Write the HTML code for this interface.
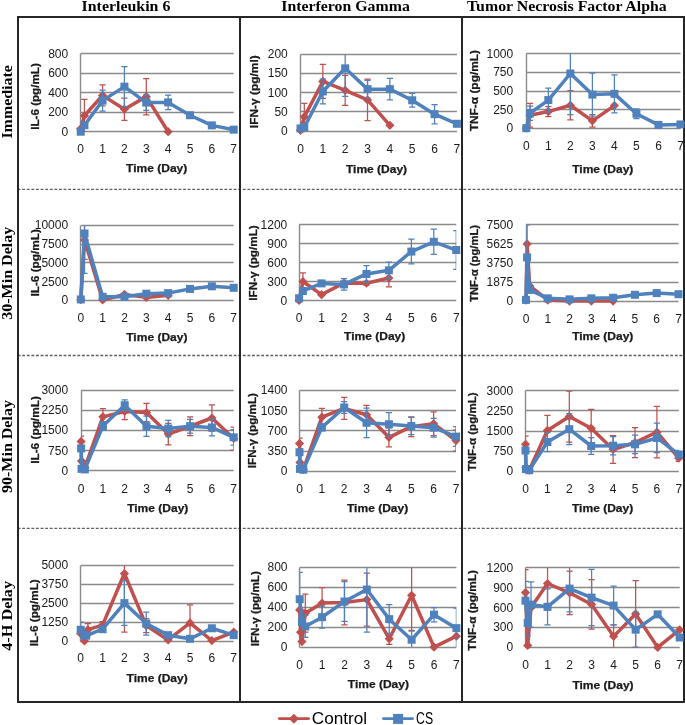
<!DOCTYPE html>
<html><head><meta charset="utf-8"><title>Cytokine charts</title>
<style>
html,body{margin:0;padding:0;background:#fff;}
body{width:685px;height:725px;overflow:hidden;}
svg{display:block;will-change:transform;}
.g{stroke:#8a8a8a;stroke-width:1.4;fill:none;}
.t{font-family:"Liberation Sans",sans-serif;font-size:12px;fill:#1a1a1a;}
.b{font-family:"Liberation Sans",sans-serif;font-size:10.8px;font-weight:bold;fill:#1a1a1a;stroke:#1a1a1a;stroke-width:0.25px;}
.h{font-family:"Liberation Serif",serif;font-size:15.5px;font-weight:bold;fill:#000;}
.lg{font-family:"Liberation Sans",sans-serif;font-size:16px;fill:#000;}
</style></head><body>
<svg width="685" height="725" viewBox="0 0 685 725">
<rect width="685" height="725" fill="#fff"/>

<text x="81.6" y="10.8" class="h" textLength="88.8" lengthAdjust="spacingAndGlyphs">Interleukin 6</text>
<text x="281.3" y="10.8" class="h" textLength="128.5" lengthAdjust="spacingAndGlyphs">Interferon Gamma</text>
<text x="467.0" y="10.8" class="h" textLength="199.7" lengthAdjust="spacingAndGlyphs">Tumor Necrosis Factor Alpha</text>
<text transform="translate(11.5,101.85) rotate(-90)" class="h" text-anchor="middle" textLength="73.5" lengthAdjust="spacingAndGlyphs">Immediate</text>
<text transform="translate(11.5,273.25) rotate(-90)" class="h" text-anchor="middle" textLength="93" lengthAdjust="spacingAndGlyphs">30-Min Delay</text>
<text transform="translate(11.5,446.55) rotate(-90)" class="h" text-anchor="middle" textLength="93" lengthAdjust="spacingAndGlyphs">90-Min Delay</text>
<text transform="translate(11.5,615.85) rotate(-90)" class="h" text-anchor="middle" textLength="69.8" lengthAdjust="spacingAndGlyphs">4-H Delay</text>
<g stroke="#5e5e5e" stroke-width="1.4" stroke-dasharray="2.87 1.726" fill="none">
<line x1="17.6" y1="189.4" x2="683" y2="189.4"/>
<line x1="17.6" y1="355.5" x2="683" y2="355.5"/>
<line x1="17.6" y1="528.4" x2="683" y2="528.4"/>
</g>
<g stroke="#262626" stroke-width="2" fill="none">
<rect x="18" y="17" width="666" height="685"/>
<line x1="240" y1="17" x2="240" y2="702"/>
<line x1="462" y1="17" x2="462" y2="702"/>
</g>
<clipPath id="c0"><rect x="80.7" y="53.8" width="153" height="77.9"/></clipPath>
<line x1="80.7" y1="131.5" x2="233.7" y2="131.5" class="g"/>
<text x="68.2" y="135.7" class="t" text-anchor="end">0</text>
<line x1="80.7" y1="112.5" x2="233.7" y2="112.5" class="g"/>
<text x="68.2" y="116.22" class="t" text-anchor="end">200</text>
<line x1="80.7" y1="92.5" x2="233.7" y2="92.5" class="g"/>
<text x="68.2" y="96.75" class="t" text-anchor="end">400</text>
<line x1="80.7" y1="73.5" x2="233.7" y2="73.5" class="g"/>
<text x="68.2" y="77.27" class="t" text-anchor="end">600</text>
<line x1="80.7" y1="53.5" x2="233.7" y2="53.5" class="g"/>
<text x="68.2" y="57.8" class="t" text-anchor="end">800</text>
<line x1="80.5" y1="53.5" x2="80.5" y2="131.5" class="g"/>
<text x="80.7" y="152.9" class="t" text-anchor="middle">0</text>
<text x="102.56" y="152.9" class="t" text-anchor="middle">1</text>
<text x="124.41" y="152.9" class="t" text-anchor="middle">2</text>
<text x="146.27" y="152.9" class="t" text-anchor="middle">3</text>
<text x="168.13" y="152.9" class="t" text-anchor="middle">4</text>
<text x="189.99" y="152.9" class="t" text-anchor="middle">5</text>
<text x="211.84" y="152.9" class="t" text-anchor="middle">6</text>
<text x="233.7" y="152.9" class="t" text-anchor="middle">7</text>
<text x="156.7" y="171.9" class="b" text-anchor="middle" textLength="61.2" lengthAdjust="spacingAndGlyphs">Time (Day)</text>
<text transform="translate(38.8,96.5) rotate(-90)" class="b" text-anchor="middle" textLength="66.6" lengthAdjust="spacingAndGlyphs">IL-6 (pg/mL)</text>
<g clip-path="url(#c0)">
<path d="M84.42 99.37V132.09M81.32 99.37H87.52M81.32 132.09H87.52" stroke="#C0504D" stroke-width="1.25" fill="none"/>
<path d="M102.56 84.86V105.9M99.46 84.86H105.66M99.46 105.9H105.66" stroke="#C0504D" stroke-width="1.25" fill="none"/>
<path d="M124.41 98.11V120.31M121.31 98.11H127.51M121.31 120.31H127.51" stroke="#C0504D" stroke-width="1.25" fill="none"/>
<path d="M146.27 78.53V114.76M143.17 78.53H149.37M143.17 114.76H149.37" stroke="#C0504D" stroke-width="1.25" fill="none"/>
</g>
<path d="M80.7 128.78 L84.42 115.73 L102.56 95.38 L124.41 109.21 L146.27 96.64 L168.13 131.7" stroke="#C0504D" stroke-width="3.5" fill="none" stroke-linejoin="round"/>
<path d="M80.7 124.18L85.3 128.78L80.7 133.38L76.1 128.78Z" fill="#C0504D"/>
<path d="M84.42 111.13L89.02 115.73L84.42 120.33L79.82 115.73Z" fill="#C0504D"/>
<path d="M102.56 90.78L107.16 95.38L102.56 99.98L97.96 95.38Z" fill="#C0504D"/>
<path d="M124.41 104.61L129.01 109.21L124.41 113.81L119.81 109.21Z" fill="#C0504D"/>
<path d="M146.27 92.05L150.87 96.64L146.27 101.24L141.67 96.64Z" fill="#C0504D"/>
<path d="M168.13 127.1L172.73 131.7L168.13 136.3L163.53 131.7Z" fill="#C0504D"/>
<g clip-path="url(#c0)">
<path d="M102.56 90.22V111.06M99.46 90.22H105.66M99.46 111.06H105.66" stroke="#4F81BD" stroke-width="1.25" fill="none"/>
<path d="M124.41 66.56V106.67M121.31 66.56H127.51M121.31 106.67H127.51" stroke="#4F81BD" stroke-width="1.25" fill="none"/>
<path d="M146.27 94.79V110.37M143.17 94.79H149.37M143.17 110.37H149.37" stroke="#4F81BD" stroke-width="1.25" fill="none"/>
<path d="M168.13 95.09V109.69M165.03 95.09H171.23M165.03 109.69H171.23" stroke="#4F81BD" stroke-width="1.25" fill="none"/>
</g>
<path d="M80.7 131.7 L84.42 125.18 L102.56 100.64 L124.41 86.62 L146.27 102.58 L168.13 102.39 L189.99 115.24 L211.84 125.37 L233.7 129.66" stroke="#4F81BD" stroke-width="3.5" fill="none" stroke-linejoin="round"/>
<rect x="76.7" y="127.7" width="8" height="8" fill="#4F81BD"/>
<rect x="80.42" y="121.18" width="8" height="8" fill="#4F81BD"/>
<rect x="98.56" y="96.64" width="8" height="8" fill="#4F81BD"/>
<rect x="120.41" y="82.62" width="8" height="8" fill="#4F81BD"/>
<rect x="142.27" y="98.58" width="8" height="8" fill="#4F81BD"/>
<rect x="164.13" y="98.39" width="8" height="8" fill="#4F81BD"/>
<rect x="185.99" y="111.24" width="8" height="8" fill="#4F81BD"/>
<rect x="207.84" y="121.37" width="8" height="8" fill="#4F81BD"/>
<rect x="229.7" y="125.66" width="8" height="8" fill="#4F81BD"/>
<clipPath id="c1"><rect x="300.5" y="54.1" width="156.4" height="77"/></clipPath>
<line x1="300.5" y1="131.5" x2="456.9" y2="131.5" class="g"/>
<text x="287.8" y="135.1" class="t" text-anchor="end">0</text>
<line x1="300.5" y1="111.5" x2="456.9" y2="111.5" class="g"/>
<text x="287.8" y="115.85" class="t" text-anchor="end">50</text>
<line x1="300.5" y1="92.5" x2="456.9" y2="92.5" class="g"/>
<text x="287.8" y="96.6" class="t" text-anchor="end">100</text>
<line x1="300.5" y1="73.5" x2="456.9" y2="73.5" class="g"/>
<text x="287.8" y="77.35" class="t" text-anchor="end">150</text>
<line x1="300.5" y1="54.5" x2="456.9" y2="54.5" class="g"/>
<text x="287.8" y="58.1" class="t" text-anchor="end">200</text>
<line x1="300.5" y1="54.5" x2="300.5" y2="131.5" class="g"/>
<text x="300.5" y="152.9" class="t" text-anchor="middle">0</text>
<text x="322.84" y="152.9" class="t" text-anchor="middle">1</text>
<text x="345.19" y="152.9" class="t" text-anchor="middle">2</text>
<text x="367.53" y="152.9" class="t" text-anchor="middle">3</text>
<text x="389.87" y="152.9" class="t" text-anchor="middle">4</text>
<text x="412.21" y="152.9" class="t" text-anchor="middle">5</text>
<text x="434.56" y="152.9" class="t" text-anchor="middle">6</text>
<text x="456.9" y="152.9" class="t" text-anchor="middle">7</text>
<text x="376.55" y="173" class="b" text-anchor="middle" textLength="61.2" lengthAdjust="spacingAndGlyphs">Time (Day)</text>
<text transform="translate(257.6,91.75) rotate(-90)" class="b" text-anchor="middle" textLength="72.9" lengthAdjust="spacingAndGlyphs">IFN-γ (pg/ml)</text>
<g clip-path="url(#c1)">
<path d="M304.3 103.38V130.33M301.2 103.38H307.4M301.2 130.33H307.4" stroke="#C0504D" stroke-width="1.25" fill="none"/>
<path d="M322.84 64.49V98.38M319.74 64.49H325.94M319.74 98.38H325.94" stroke="#C0504D" stroke-width="1.25" fill="none"/>
<path d="M345.19 75.27V105.3M342.09 75.27H348.29M342.09 105.3H348.29" stroke="#C0504D" stroke-width="1.25" fill="none"/>
<path d="M367.53 79.12V120.7M364.43 79.12H370.63M364.43 120.7H370.63" stroke="#C0504D" stroke-width="1.25" fill="none"/>
</g>
<path d="M300.5 130.33 L304.3 116.85 L322.84 81.44 L345.19 90.29 L367.53 99.91 L389.87 125.32" stroke="#C0504D" stroke-width="3.5" fill="none" stroke-linejoin="round"/>
<path d="M300.5 125.73L305.1 130.33L300.5 134.93L295.9 130.33Z" fill="#C0504D"/>
<path d="M304.3 112.25L308.9 116.85L304.3 121.45L299.7 116.85Z" fill="#C0504D"/>
<path d="M322.84 76.84L327.44 81.44L322.84 86.03L318.24 81.44Z" fill="#C0504D"/>
<path d="M345.19 85.69L349.79 90.29L345.19 94.89L340.59 90.29Z" fill="#C0504D"/>
<path d="M367.53 95.31L372.13 99.91L367.53 104.51L362.93 99.91Z" fill="#C0504D"/>
<path d="M389.87 120.72L394.47 125.32L389.87 129.92L385.27 125.32Z" fill="#C0504D"/>
<g clip-path="url(#c1)">
<path d="M322.84 79.12V103.76M319.74 79.12H325.94M319.74 103.76H325.94" stroke="#4F81BD" stroke-width="1.25" fill="none"/>
<path d="M345.19 40.24V96.45M342.09 40.24H348.29M342.09 96.45H348.29" stroke="#4F81BD" stroke-width="1.25" fill="none"/>
<path d="M367.53 80.28V97.99M364.43 80.28H370.63M364.43 97.99H370.63" stroke="#4F81BD" stroke-width="1.25" fill="none"/>
<path d="M389.87 78.35V99.91M386.77 78.35H392.97M386.77 99.91H392.97" stroke="#4F81BD" stroke-width="1.25" fill="none"/>
<path d="M412.21 93.37V107.23M409.11 93.37H415.31M409.11 107.23H415.31" stroke="#4F81BD" stroke-width="1.25" fill="none"/>
<path d="M434.56 104.53V123.78M431.46 104.53H437.66M431.46 123.78H437.66" stroke="#4F81BD" stroke-width="1.25" fill="none"/>
</g>
<path d="M300.5 128.41 L304.3 127.25 L322.84 91.44 L345.19 68.34 L367.53 89.13 L389.87 89.13 L412.21 100.3 L434.56 114.16 L456.9 123.78" stroke="#4F81BD" stroke-width="3.5" fill="none" stroke-linejoin="round"/>
<rect x="296.5" y="124.41" width="8" height="8" fill="#4F81BD"/>
<rect x="300.3" y="123.25" width="8" height="8" fill="#4F81BD"/>
<rect x="318.84" y="87.44" width="8" height="8" fill="#4F81BD"/>
<rect x="341.19" y="64.34" width="8" height="8" fill="#4F81BD"/>
<rect x="363.53" y="85.13" width="8" height="8" fill="#4F81BD"/>
<rect x="385.87" y="85.13" width="8" height="8" fill="#4F81BD"/>
<rect x="408.21" y="96.3" width="8" height="8" fill="#4F81BD"/>
<rect x="430.56" y="110.16" width="8" height="8" fill="#4F81BD"/>
<rect x="452.9" y="119.78" width="8" height="8" fill="#4F81BD"/>
<clipPath id="c2"><rect x="526.3" y="53.6" width="154.2" height="74.8"/></clipPath>
<line x1="526.3" y1="128.5" x2="680.5" y2="128.5" class="g"/>
<text x="513.2" y="132.4" class="t" text-anchor="end">0</text>
<line x1="526.3" y1="109.5" x2="680.5" y2="109.5" class="g"/>
<text x="513.2" y="113.7" class="t" text-anchor="end">250</text>
<line x1="526.3" y1="91.5" x2="680.5" y2="91.5" class="g"/>
<text x="513.2" y="95" class="t" text-anchor="end">500</text>
<line x1="526.3" y1="72.5" x2="680.5" y2="72.5" class="g"/>
<text x="513.2" y="76.3" class="t" text-anchor="end">750</text>
<line x1="526.3" y1="53.5" x2="680.5" y2="53.5" class="g"/>
<text x="513.2" y="57.6" class="t" text-anchor="end">1000</text>
<line x1="526.5" y1="53.5" x2="526.5" y2="128.5" class="g"/>
<text x="526.3" y="150.3" class="t" text-anchor="middle">0</text>
<text x="548.33" y="150.3" class="t" text-anchor="middle">1</text>
<text x="570.36" y="150.3" class="t" text-anchor="middle">2</text>
<text x="592.39" y="150.3" class="t" text-anchor="middle">3</text>
<text x="614.41" y="150.3" class="t" text-anchor="middle">4</text>
<text x="636.44" y="150.3" class="t" text-anchor="middle">5</text>
<text x="658.47" y="150.3" class="t" text-anchor="middle">6</text>
<text x="680.5" y="150.3" class="t" text-anchor="middle">7</text>
<text x="602.8" y="172.7" class="b" text-anchor="middle" textLength="61.2" lengthAdjust="spacingAndGlyphs">Time (Day)</text>
<text transform="translate(477.9,90.65) rotate(-90)" class="b" text-anchor="middle" textLength="81.3" lengthAdjust="spacingAndGlyphs">TNF-α (pg/mL)</text>
<g clip-path="url(#c2)">
<path d="M530.04 103.27V127.2M526.94 103.27H533.14M526.94 127.2H533.14" stroke="#C0504D" stroke-width="1.25" fill="none"/>
<path d="M548.33 106.56V116.58M545.23 106.56H551.43M545.23 116.58H551.43" stroke="#C0504D" stroke-width="1.25" fill="none"/>
<path d="M570.36 90.7V119.87M567.26 90.7H573.46M567.26 119.87H573.46" stroke="#C0504D" stroke-width="1.25" fill="none"/>
<path d="M592.39 114.64V127.05M589.29 114.64H595.49M589.29 127.05H595.49" stroke="#C0504D" stroke-width="1.25" fill="none"/>
</g>
<path d="M526.3 128.03 L530.04 115.24 L548.33 111.57 L570.36 105.29 L592.39 120.85 L614.41 105.59" stroke="#C0504D" stroke-width="3.5" fill="none" stroke-linejoin="round"/>
<path d="M526.3 123.43L530.9 128.03L526.3 132.63L521.7 128.03Z" fill="#C0504D"/>
<path d="M530.04 110.64L534.64 115.24L530.04 119.84L525.44 115.24Z" fill="#C0504D"/>
<path d="M548.33 106.97L552.93 111.57L548.33 116.17L543.73 111.57Z" fill="#C0504D"/>
<path d="M570.36 100.69L574.96 105.29L570.36 109.89L565.76 105.29Z" fill="#C0504D"/>
<path d="M592.39 116.25L596.99 120.85L592.39 125.45L587.79 120.85Z" fill="#C0504D"/>
<path d="M614.41 100.99L619.01 105.59L614.41 110.19L609.81 105.59Z" fill="#C0504D"/>
<g clip-path="url(#c2)">
<path d="M530.04 106.18V120.4M526.94 106.18H533.14M526.94 120.4H533.14" stroke="#4F81BD" stroke-width="1.25" fill="none"/>
<path d="M548.33 88.08V112.02M545.23 88.08H551.43M545.23 112.02H551.43" stroke="#4F81BD" stroke-width="1.25" fill="none"/>
<path d="M570.36 32.43V114.56M567.26 32.43H573.46M567.26 114.56H573.46" stroke="#4F81BD" stroke-width="1.25" fill="none"/>
<path d="M592.39 73.05V116.13M589.29 73.05H595.49M589.29 116.13H595.49" stroke="#4F81BD" stroke-width="1.25" fill="none"/>
<path d="M614.41 74.84V112.84M611.31 74.84H617.51M611.31 112.84H617.51" stroke="#4F81BD" stroke-width="1.25" fill="none"/>
<path d="M636.44 108.88V118.6M633.34 108.88H639.54M633.34 118.6H639.54" stroke="#4F81BD" stroke-width="1.25" fill="none"/>
</g>
<path d="M526.3 128.18 L530.04 113.29 L548.33 100.05 L570.36 73.5 L592.39 94.59 L614.41 93.84 L636.44 113.74 L658.47 124.88 L680.5 124.44" stroke="#4F81BD" stroke-width="3.5" fill="none" stroke-linejoin="round"/>
<rect x="522.3" y="124.18" width="8" height="8" fill="#4F81BD"/>
<rect x="526.04" y="109.29" width="8" height="8" fill="#4F81BD"/>
<rect x="544.33" y="96.05" width="8" height="8" fill="#4F81BD"/>
<rect x="566.36" y="69.5" width="8" height="8" fill="#4F81BD"/>
<rect x="588.39" y="90.59" width="8" height="8" fill="#4F81BD"/>
<rect x="610.41" y="89.84" width="8" height="8" fill="#4F81BD"/>
<rect x="632.44" y="109.74" width="8" height="8" fill="#4F81BD"/>
<rect x="654.47" y="120.88" width="8" height="8" fill="#4F81BD"/>
<rect x="676.5" y="120.44" width="8" height="8" fill="#4F81BD"/>
<clipPath id="c3"><rect x="80.8" y="225.25" width="152.9" height="75.15"/></clipPath>
<line x1="80.8" y1="300.5" x2="233.7" y2="300.5" class="g"/>
<text x="68.1" y="304.4" class="t" text-anchor="end">0</text>
<line x1="80.8" y1="281.5" x2="233.7" y2="281.5" class="g"/>
<text x="68.1" y="285.61" class="t" text-anchor="end">2500</text>
<line x1="80.8" y1="262.5" x2="233.7" y2="262.5" class="g"/>
<text x="68.1" y="266.82" class="t" text-anchor="end">5000</text>
<line x1="80.8" y1="244.5" x2="233.7" y2="244.5" class="g"/>
<text x="68.1" y="248.04" class="t" text-anchor="end">7500</text>
<line x1="80.8" y1="225.5" x2="233.7" y2="225.5" class="g"/>
<text x="68.1" y="229.25" class="t" text-anchor="end">10000</text>
<line x1="80.5" y1="225.5" x2="80.5" y2="300.5" class="g"/>
<text x="80.8" y="322.1" class="t" text-anchor="middle">0</text>
<text x="102.64" y="322.1" class="t" text-anchor="middle">1</text>
<text x="124.49" y="322.1" class="t" text-anchor="middle">2</text>
<text x="146.33" y="322.1" class="t" text-anchor="middle">3</text>
<text x="168.17" y="322.1" class="t" text-anchor="middle">4</text>
<text x="190.01" y="322.1" class="t" text-anchor="middle">5</text>
<text x="211.86" y="322.1" class="t" text-anchor="middle">6</text>
<text x="233.7" y="322.1" class="t" text-anchor="middle">7</text>
<text x="156.85" y="341.3" class="b" text-anchor="middle" textLength="61.2" lengthAdjust="spacingAndGlyphs">Time (Day)</text>
<text transform="translate(38.6,262.85) rotate(-90)" class="b" text-anchor="middle" textLength="67.5" lengthAdjust="spacingAndGlyphs">IL-6 (pg/mL)</text>
<g clip-path="url(#c3)">
<path d="M84.51 220.37V259.44M81.41 220.37H87.61M81.41 259.44H87.61" stroke="#C0504D" stroke-width="1.25" fill="none"/>
</g>
<path d="M80.8 299.65 L84.51 239.9 L102.64 300.02 L124.49 294.46 L146.33 297.39 L168.17 295.36" stroke="#C0504D" stroke-width="3.5" fill="none" stroke-linejoin="round"/>
<path d="M80.8 295.05L85.4 299.65L80.8 304.25L76.2 299.65Z" fill="#C0504D"/>
<path d="M84.51 235.3L89.11 239.9L84.51 244.5L79.91 239.9Z" fill="#C0504D"/>
<path d="M102.64 295.42L107.24 300.02L102.64 304.62L98.04 300.02Z" fill="#C0504D"/>
<path d="M124.49 289.86L129.09 294.46L124.49 299.06L119.89 294.46Z" fill="#C0504D"/>
<path d="M146.33 292.79L150.93 297.39L146.33 301.99L141.73 297.39Z" fill="#C0504D"/>
<path d="M168.17 290.76L172.77 295.36L168.17 299.96L163.57 295.36Z" fill="#C0504D"/>
<g clip-path="url(#c3)">
<path d="M84.51 193.69V273.35M81.41 193.69H87.61M81.41 273.35H87.61" stroke="#4F81BD" stroke-width="1.25" fill="none"/>
<path d="M233.7 285.56V290.07M230.6 285.56H236.8M230.6 290.07H236.8" stroke="#4F81BD" stroke-width="1.25" fill="none"/>
</g>
<path d="M80.8 299.42 L84.51 233.52 L102.64 296.79 L124.49 296.72 L146.33 293.71 L168.17 293.11 L190.01 288.9 L211.86 286.31 L233.7 287.81" stroke="#4F81BD" stroke-width="3.5" fill="none" stroke-linejoin="round"/>
<rect x="76.8" y="295.42" width="8" height="8" fill="#4F81BD"/>
<rect x="80.51" y="229.52" width="8" height="8" fill="#4F81BD"/>
<rect x="98.64" y="292.79" width="8" height="8" fill="#4F81BD"/>
<rect x="120.49" y="292.72" width="8" height="8" fill="#4F81BD"/>
<rect x="142.33" y="289.71" width="8" height="8" fill="#4F81BD"/>
<rect x="164.17" y="289.11" width="8" height="8" fill="#4F81BD"/>
<rect x="186.01" y="284.9" width="8" height="8" fill="#4F81BD"/>
<rect x="207.86" y="282.31" width="8" height="8" fill="#4F81BD"/>
<rect x="229.7" y="283.81" width="8" height="8" fill="#4F81BD"/>
<clipPath id="c4"><rect x="299.1" y="224.5" width="157.15" height="76"/></clipPath>
<line x1="299.1" y1="300.5" x2="456.25" y2="300.5" class="g"/>
<text x="287.3" y="304.5" class="t" text-anchor="end">0</text>
<line x1="299.1" y1="281.5" x2="456.25" y2="281.5" class="g"/>
<text x="287.3" y="285.5" class="t" text-anchor="end">300</text>
<line x1="299.1" y1="262.5" x2="456.25" y2="262.5" class="g"/>
<text x="287.3" y="266.5" class="t" text-anchor="end">600</text>
<line x1="299.1" y1="243.5" x2="456.25" y2="243.5" class="g"/>
<text x="287.3" y="247.5" class="t" text-anchor="end">900</text>
<line x1="299.1" y1="224.5" x2="456.25" y2="224.5" class="g"/>
<text x="287.3" y="228.5" class="t" text-anchor="end">1200</text>
<line x1="299.5" y1="224.5" x2="299.5" y2="300.5" class="g"/>
<text x="299.1" y="322.2" class="t" text-anchor="middle">0</text>
<text x="321.55" y="322.2" class="t" text-anchor="middle">1</text>
<text x="344" y="322.2" class="t" text-anchor="middle">2</text>
<text x="366.45" y="322.2" class="t" text-anchor="middle">3</text>
<text x="388.9" y="322.2" class="t" text-anchor="middle">4</text>
<text x="411.35" y="322.2" class="t" text-anchor="middle">5</text>
<text x="433.8" y="322.2" class="t" text-anchor="middle">6</text>
<text x="456.25" y="322.2" class="t" text-anchor="middle">7</text>
<text x="374.7" y="339.7" class="b" text-anchor="middle" textLength="61.2" lengthAdjust="spacingAndGlyphs">Time (Day)</text>
<text transform="translate(257.4,263) rotate(-90)" class="b" text-anchor="middle" textLength="75.4" lengthAdjust="spacingAndGlyphs">IFN-γ (pg/mL)</text>
<g clip-path="url(#c4)">
<path d="M302.92 272.76V290.24M299.82 272.76H306.02M299.82 290.24H306.02" stroke="#C0504D" stroke-width="1.25" fill="none"/>
<path d="M366.45 281.37V285.17M363.35 281.37H369.55M363.35 285.17H369.55" stroke="#C0504D" stroke-width="1.25" fill="none"/>
<path d="M388.9 269.4V286.76M385.8 269.4H392M385.8 286.76H392" stroke="#C0504D" stroke-width="1.25" fill="none"/>
</g>
<path d="M299.1 300.5 L302.92 281.5 L321.55 294.67 L344 282.96 L366.45 283.27 L388.9 278.08" stroke="#C0504D" stroke-width="3.5" fill="none" stroke-linejoin="round"/>
<path d="M299.1 295.9L303.7 300.5L299.1 305.1L294.5 300.5Z" fill="#C0504D"/>
<path d="M302.92 276.9L307.52 281.5L302.92 286.1L298.32 281.5Z" fill="#C0504D"/>
<path d="M321.55 290.07L326.15 294.67L321.55 299.27L316.95 294.67Z" fill="#C0504D"/>
<path d="M344 278.36L348.6 282.96L344 287.56L339.4 282.96Z" fill="#C0504D"/>
<path d="M366.45 278.67L371.05 283.27L366.45 287.87L361.85 283.27Z" fill="#C0504D"/>
<path d="M388.9 273.48L393.5 278.08L388.9 282.68L384.3 278.08Z" fill="#C0504D"/>
<g clip-path="url(#c4)">
<path d="M302.92 287.83V294.17M299.82 287.83H306.02M299.82 294.17H306.02" stroke="#4F81BD" stroke-width="1.25" fill="none"/>
<path d="M321.55 280.87V285.93M318.45 280.87H324.65M318.45 285.93H324.65" stroke="#4F81BD" stroke-width="1.25" fill="none"/>
<path d="M344 278.71V290.11M340.9 278.71H347.1M340.9 290.11H347.1" stroke="#4F81BD" stroke-width="1.25" fill="none"/>
<path d="M366.45 265.67V282.26M363.35 265.67H369.55M363.35 282.26H369.55" stroke="#4F81BD" stroke-width="1.25" fill="none"/>
<path d="M388.9 262.12V278.59M385.8 262.12H392M385.8 278.59H392" stroke="#4F81BD" stroke-width="1.25" fill="none"/>
<path d="M411.35 239.19V263.89M408.25 239.19H414.45M408.25 263.89H414.45" stroke="#4F81BD" stroke-width="1.25" fill="none"/>
<path d="M433.8 229.12V254.46M430.7 229.12H436.9M430.7 254.46H436.9" stroke="#4F81BD" stroke-width="1.25" fill="none"/>
<path d="M456.25 230.71V269.34M453.15 230.71H459.35M453.15 269.34H459.35" stroke="#4F81BD" stroke-width="1.25" fill="none"/>
</g>
<path d="M299.1 298.28 L302.92 291 L321.55 283.4 L344 284.41 L366.45 273.96 L388.9 270.35 L411.35 251.54 L433.8 241.79 L456.25 250.02" stroke="#4F81BD" stroke-width="3.5" fill="none" stroke-linejoin="round"/>
<rect x="295.1" y="294.28" width="8" height="8" fill="#4F81BD"/>
<rect x="298.92" y="287" width="8" height="8" fill="#4F81BD"/>
<rect x="317.55" y="279.4" width="8" height="8" fill="#4F81BD"/>
<rect x="340" y="280.41" width="8" height="8" fill="#4F81BD"/>
<rect x="362.45" y="269.96" width="8" height="8" fill="#4F81BD"/>
<rect x="384.9" y="266.35" width="8" height="8" fill="#4F81BD"/>
<rect x="407.35" y="247.54" width="8" height="8" fill="#4F81BD"/>
<rect x="429.8" y="237.79" width="8" height="8" fill="#4F81BD"/>
<rect x="452.25" y="246.02" width="8" height="8" fill="#4F81BD"/>
<clipPath id="c5"><rect x="526" y="224.85" width="152.5" height="76.25"/></clipPath>
<line x1="526" y1="301.5" x2="678.5" y2="301.5" class="g"/>
<text x="513.2" y="305.1" class="t" text-anchor="end">0</text>
<line x1="526" y1="282.5" x2="678.5" y2="282.5" class="g"/>
<text x="513.2" y="286.04" class="t" text-anchor="end">1875</text>
<line x1="526" y1="262.5" x2="678.5" y2="262.5" class="g"/>
<text x="513.2" y="266.98" class="t" text-anchor="end">3750</text>
<line x1="526" y1="243.5" x2="678.5" y2="243.5" class="g"/>
<text x="513.2" y="247.91" class="t" text-anchor="end">5625</text>
<line x1="526" y1="224.5" x2="678.5" y2="224.5" class="g"/>
<text x="513.2" y="228.85" class="t" text-anchor="end">7500</text>
<line x1="526.5" y1="224.5" x2="526.5" y2="301.5" class="g"/>
<text x="526" y="322.5" class="t" text-anchor="middle">0</text>
<text x="547.79" y="322.5" class="t" text-anchor="middle">1</text>
<text x="569.57" y="322.5" class="t" text-anchor="middle">2</text>
<text x="591.36" y="322.5" class="t" text-anchor="middle">3</text>
<text x="613.14" y="322.5" class="t" text-anchor="middle">4</text>
<text x="634.93" y="322.5" class="t" text-anchor="middle">5</text>
<text x="656.71" y="322.5" class="t" text-anchor="middle">6</text>
<text x="678.5" y="322.5" class="t" text-anchor="middle">7</text>
<text x="602.75" y="340.2" class="b" text-anchor="middle" textLength="61.2" lengthAdjust="spacingAndGlyphs">Time (Day)</text>
<text transform="translate(477.5,263.45) rotate(-90)" class="b" text-anchor="middle" textLength="76.9" lengthAdjust="spacingAndGlyphs">TNF-α (pg/mL)</text>
<g clip-path="url(#c5)">
</g>
<path d="M526 300.08 L527.09 243.91 L529.7 285.95 L547.79 300.08 L569.57 301.1 L591.36 301.1 L613.14 301.1" stroke="#C0504D" stroke-width="3.5" fill="none" stroke-linejoin="round"/>
<path d="M526 295.48L530.6 300.08L526 304.68L521.4 300.08Z" fill="#C0504D"/>
<path d="M527.09 239.31L531.69 243.91L527.09 248.51L522.49 243.91Z" fill="#C0504D"/>
<path d="M529.7 281.35L534.3 285.95L529.7 290.55L525.1 285.95Z" fill="#C0504D"/>
<path d="M547.79 295.48L552.39 300.08L547.79 304.68L543.19 300.08Z" fill="#C0504D"/>
<path d="M569.57 296.5L574.17 301.1L569.57 305.7L564.97 301.1Z" fill="#C0504D"/>
<path d="M591.36 296.5L595.96 301.1L591.36 305.7L586.76 301.1Z" fill="#C0504D"/>
<path d="M613.14 296.5L617.74 301.1L613.14 305.7L608.54 301.1Z" fill="#C0504D"/>
<g clip-path="url(#c5)">
<path d="M527.09 224.85V289.92M523.99 224.85H530.19M523.99 289.92H530.19" stroke="#4F81BD" stroke-width="1.25" fill="none"/>
</g>
<path d="M526 299.88 L527.09 257.38 L529.7 289.92 L547.79 298.36 L569.57 299.37 L591.36 298.36 L613.14 297.75 L634.93 294.8 L656.71 293.07 L678.5 294.19" stroke="#4F81BD" stroke-width="3.5" fill="none" stroke-linejoin="round"/>
<rect x="522" y="295.88" width="8" height="8" fill="#4F81BD"/>
<rect x="523.09" y="253.38" width="8" height="8" fill="#4F81BD"/>
<rect x="525.7" y="285.92" width="8" height="8" fill="#4F81BD"/>
<rect x="543.79" y="294.36" width="8" height="8" fill="#4F81BD"/>
<rect x="565.57" y="295.37" width="8" height="8" fill="#4F81BD"/>
<rect x="587.36" y="294.36" width="8" height="8" fill="#4F81BD"/>
<rect x="609.14" y="293.75" width="8" height="8" fill="#4F81BD"/>
<rect x="630.93" y="290.8" width="8" height="8" fill="#4F81BD"/>
<rect x="652.71" y="289.07" width="8" height="8" fill="#4F81BD"/>
<rect x="674.5" y="290.19" width="8" height="8" fill="#4F81BD"/>
<clipPath id="c6"><rect x="81.1" y="390.2" width="152.6" height="80.4"/></clipPath>
<line x1="81.1" y1="470.5" x2="233.7" y2="470.5" class="g"/>
<text x="68.1" y="474.6" class="t" text-anchor="end">0</text>
<line x1="81.1" y1="450.5" x2="233.7" y2="450.5" class="g"/>
<text x="68.1" y="454.5" class="t" text-anchor="end">750</text>
<line x1="81.1" y1="430.5" x2="233.7" y2="430.5" class="g"/>
<text x="68.1" y="434.4" class="t" text-anchor="end">1500</text>
<line x1="81.1" y1="410.5" x2="233.7" y2="410.5" class="g"/>
<text x="68.1" y="414.3" class="t" text-anchor="end">2250</text>
<line x1="81.1" y1="390.5" x2="233.7" y2="390.5" class="g"/>
<text x="68.1" y="394.2" class="t" text-anchor="end">3000</text>
<line x1="81.5" y1="390.5" x2="81.5" y2="470.5" class="g"/>
<text x="81.1" y="492.7" class="t" text-anchor="middle">0</text>
<text x="102.9" y="492.7" class="t" text-anchor="middle">1</text>
<text x="124.7" y="492.7" class="t" text-anchor="middle">2</text>
<text x="146.5" y="492.7" class="t" text-anchor="middle">3</text>
<text x="168.3" y="492.7" class="t" text-anchor="middle">4</text>
<text x="190.1" y="492.7" class="t" text-anchor="middle">5</text>
<text x="211.9" y="492.7" class="t" text-anchor="middle">6</text>
<text x="233.7" y="492.7" class="t" text-anchor="middle">7</text>
<text x="157.75" y="511.9" class="b" text-anchor="middle" textLength="61.2" lengthAdjust="spacingAndGlyphs">Time (Day)</text>
<text transform="translate(38.9,430) rotate(-90)" class="b" text-anchor="middle" textLength="67.7" lengthAdjust="spacingAndGlyphs">IL-6 (pg/mL)</text>
<g clip-path="url(#c6)">
<path d="M81.1 436.03V446.75M78 436.03H84.2M78 446.75H84.2" stroke="#C0504D" stroke-width="1.25" fill="none"/>
<path d="M102.9 408.53V425.15M99.8 408.53H106M99.8 425.15H106" stroke="#C0504D" stroke-width="1.25" fill="none"/>
<path d="M124.7 403.12V419.73M121.6 403.12H127.8M121.6 419.73H127.8" stroke="#C0504D" stroke-width="1.25" fill="none"/>
<path d="M146.5 403.44V421.66M143.4 403.44H149.6M143.4 421.66H149.6" stroke="#C0504D" stroke-width="1.25" fill="none"/>
<path d="M168.3 423.38V444.82M165.2 423.38H171.4M165.2 444.82H171.4" stroke="#C0504D" stroke-width="1.25" fill="none"/>
<path d="M190.1 416.87V435.63M187 416.87H193.2M187 435.63H193.2" stroke="#C0504D" stroke-width="1.25" fill="none"/>
<path d="M211.9 404.86V431.12M208.8 404.86H215M208.8 431.12H215" stroke="#C0504D" stroke-width="1.25" fill="none"/>
<path d="M233.7 427V450.04M230.6 427H236.8M230.6 450.04H236.8" stroke="#C0504D" stroke-width="1.25" fill="none"/>
</g>
<path d="M81.1 441.39 L81.54 461.09 L84.81 467.71 L102.9 416.84 L124.7 411.43 L146.5 412.55 L168.3 434.1 L190.1 426.25 L211.9 417.99 L233.7 438.52" stroke="#C0504D" stroke-width="3.5" fill="none" stroke-linejoin="round"/>
<path d="M81.1 436.79L85.7 441.39L81.1 445.99L76.5 441.39Z" fill="#C0504D"/>
<path d="M81.54 456.49L86.14 461.09L81.54 465.69L76.94 461.09Z" fill="#C0504D"/>
<path d="M84.81 463.11L89.41 467.71L84.81 472.31L80.21 467.71Z" fill="#C0504D"/>
<path d="M102.9 412.24L107.5 416.84L102.9 421.44L98.3 416.84Z" fill="#C0504D"/>
<path d="M124.7 406.83L129.3 411.43L124.7 416.03L120.1 411.43Z" fill="#C0504D"/>
<path d="M146.5 407.95L151.1 412.55L146.5 417.15L141.9 412.55Z" fill="#C0504D"/>
<path d="M168.3 429.5L172.9 434.1L168.3 438.7L163.7 434.1Z" fill="#C0504D"/>
<path d="M190.1 421.65L194.7 426.25L190.1 430.85L185.5 426.25Z" fill="#C0504D"/>
<path d="M211.9 413.39L216.5 417.99L211.9 422.59L207.3 417.99Z" fill="#C0504D"/>
<path d="M233.7 433.92L238.3 438.52L233.7 443.12L229.1 438.52Z" fill="#C0504D"/>
<g clip-path="url(#c6)">
<path d="M102.9 421.74V430.32M99.8 421.74H106M99.8 430.32H106" stroke="#4F81BD" stroke-width="1.25" fill="none"/>
<path d="M124.7 399.85V410.57M121.6 399.85H127.8M121.6 410.57H127.8" stroke="#4F81BD" stroke-width="1.25" fill="none"/>
<path d="M146.5 416.2V436.3M143.4 416.2H149.6M143.4 436.3H149.6" stroke="#4F81BD" stroke-width="1.25" fill="none"/>
<path d="M168.3 420.48V436.56M165.2 420.48H171.4M165.2 436.56H171.4" stroke="#4F81BD" stroke-width="1.25" fill="none"/>
<path d="M190.1 419.28V433.21M187 419.28H193.2M187 433.21H193.2" stroke="#4F81BD" stroke-width="1.25" fill="none"/>
<path d="M211.9 419.01V435.89M208.8 419.01H215M208.8 435.89H215" stroke="#4F81BD" stroke-width="1.25" fill="none"/>
<path d="M233.7 429.52V445.06M230.6 429.52H236.8M230.6 445.06H236.8" stroke="#4F81BD" stroke-width="1.25" fill="none"/>
</g>
<path d="M81.1 448.38 L81.54 468.88 L84.81 469.39 L102.9 426.03 L124.7 405.21 L146.5 426.25 L168.3 428.52 L190.1 426.25 L211.9 427.45 L233.7 437.29" stroke="#4F81BD" stroke-width="3.5" fill="none" stroke-linejoin="round"/>
<rect x="77.1" y="444.38" width="8" height="8" fill="#4F81BD"/>
<rect x="77.54" y="464.88" width="8" height="8" fill="#4F81BD"/>
<rect x="80.81" y="465.39" width="8" height="8" fill="#4F81BD"/>
<rect x="98.9" y="422.03" width="8" height="8" fill="#4F81BD"/>
<rect x="120.7" y="401.21" width="8" height="8" fill="#4F81BD"/>
<rect x="142.5" y="422.25" width="8" height="8" fill="#4F81BD"/>
<rect x="164.3" y="424.52" width="8" height="8" fill="#4F81BD"/>
<rect x="186.1" y="422.25" width="8" height="8" fill="#4F81BD"/>
<rect x="207.9" y="423.45" width="8" height="8" fill="#4F81BD"/>
<rect x="229.7" y="433.29" width="8" height="8" fill="#4F81BD"/>
<clipPath id="c7"><rect x="299.5" y="390.2" width="156.5" height="81.2"/></clipPath>
<line x1="299.5" y1="471.5" x2="456" y2="471.5" class="g"/>
<text x="287.5" y="475.4" class="t" text-anchor="end">0</text>
<line x1="299.5" y1="451.5" x2="456" y2="451.5" class="g"/>
<text x="287.5" y="455.1" class="t" text-anchor="end">350</text>
<line x1="299.5" y1="430.5" x2="456" y2="430.5" class="g"/>
<text x="287.5" y="434.8" class="t" text-anchor="end">700</text>
<line x1="299.5" y1="410.5" x2="456" y2="410.5" class="g"/>
<text x="287.5" y="414.5" class="t" text-anchor="end">1050</text>
<line x1="299.5" y1="390.5" x2="456" y2="390.5" class="g"/>
<text x="287.5" y="394.2" class="t" text-anchor="end">1400</text>
<line x1="299.5" y1="390.5" x2="299.5" y2="471.5" class="g"/>
<text x="299.5" y="492.5" class="t" text-anchor="middle">0</text>
<text x="321.86" y="492.5" class="t" text-anchor="middle">1</text>
<text x="344.21" y="492.5" class="t" text-anchor="middle">2</text>
<text x="366.57" y="492.5" class="t" text-anchor="middle">3</text>
<text x="388.93" y="492.5" class="t" text-anchor="middle">4</text>
<text x="411.29" y="492.5" class="t" text-anchor="middle">5</text>
<text x="433.64" y="492.5" class="t" text-anchor="middle">6</text>
<text x="456" y="492.5" class="t" text-anchor="middle">7</text>
<text x="377.6" y="512.3" class="b" text-anchor="middle" textLength="61.2" lengthAdjust="spacingAndGlyphs">Time (Day)</text>
<text transform="translate(256.1,430.65) rotate(-90)" class="b" text-anchor="middle" textLength="75.1" lengthAdjust="spacingAndGlyphs">IFN-γ (pg/mL)</text>
<g clip-path="url(#c7)">
<path d="M299.5 438.22V448.66M296.4 438.22H302.6M296.4 448.66H302.6" stroke="#C0504D" stroke-width="1.25" fill="none"/>
<path d="M321.86 408.47V425.87M318.76 408.47H324.96M318.76 425.87H324.96" stroke="#C0504D" stroke-width="1.25" fill="none"/>
<path d="M344.21 397.45V419.49M341.11 397.45H347.31M341.11 419.49H347.31" stroke="#C0504D" stroke-width="1.25" fill="none"/>
<path d="M366.57 405.45V424.01M363.47 405.45H369.67M363.47 424.01H369.67" stroke="#C0504D" stroke-width="1.25" fill="none"/>
<path d="M388.93 427.78V446.92M385.83 427.78H392.03M385.83 446.92H392.03" stroke="#C0504D" stroke-width="1.25" fill="none"/>
<path d="M411.29 416.82V436.54M408.19 416.82H414.39M408.19 436.54H414.39" stroke="#C0504D" stroke-width="1.25" fill="none"/>
<path d="M433.64 411.78V435.56M430.54 411.78H436.74M430.54 435.56H436.74" stroke="#C0504D" stroke-width="1.25" fill="none"/>
<path d="M456 430.16V451.04M452.9 430.16H459.1M452.9 451.04H459.1" stroke="#C0504D" stroke-width="1.25" fill="none"/>
</g>
<path d="M299.5 443.44 L299.95 462.41 L303.3 469.66 L321.86 417.17 L344.21 408.47 L366.57 414.73 L388.93 437.35 L411.29 426.68 L433.64 423.67 L456 440.6" stroke="#C0504D" stroke-width="3.5" fill="none" stroke-linejoin="round"/>
<path d="M299.5 438.84L304.1 443.44L299.5 448.04L294.9 443.44Z" fill="#C0504D"/>
<path d="M299.95 457.81L304.55 462.41L299.95 467.01L295.35 462.41Z" fill="#C0504D"/>
<path d="M303.3 465.06L307.9 469.66L303.3 474.26L298.7 469.66Z" fill="#C0504D"/>
<path d="M321.86 412.57L326.46 417.17L321.86 421.77L317.26 417.17Z" fill="#C0504D"/>
<path d="M344.21 403.87L348.81 408.47L344.21 413.07L339.61 408.47Z" fill="#C0504D"/>
<path d="M366.57 410.13L371.17 414.73L366.57 419.33L361.97 414.73Z" fill="#C0504D"/>
<path d="M388.93 432.75L393.53 437.35L388.93 441.95L384.33 437.35Z" fill="#C0504D"/>
<path d="M411.29 422.08L415.89 426.68L411.29 431.28L406.69 426.68Z" fill="#C0504D"/>
<path d="M433.64 419.07L438.24 423.67L433.64 428.27L429.04 423.67Z" fill="#C0504D"/>
<path d="M456 436L460.6 440.6L456 445.2L451.4 440.6Z" fill="#C0504D"/>
<g clip-path="url(#c7)">
<path d="M321.86 423.9V430.86M318.76 423.9H324.96M318.76 430.86H324.96" stroke="#4F81BD" stroke-width="1.25" fill="none"/>
<path d="M344.21 401.68V413.28M341.11 401.68H347.31M341.11 413.28H347.31" stroke="#4F81BD" stroke-width="1.25" fill="none"/>
<path d="M366.57 408.01V437.59M363.47 408.01H369.67M363.47 437.59H369.67" stroke="#4F81BD" stroke-width="1.25" fill="none"/>
<path d="M388.93 412.65V435.85M385.83 412.65H392.03M385.83 435.85H392.03" stroke="#4F81BD" stroke-width="1.25" fill="none"/>
<path d="M411.29 417.34V434.74M408.19 417.34H414.39M408.19 434.74H414.39" stroke="#4F81BD" stroke-width="1.25" fill="none"/>
<path d="M433.64 418.45V437.01M430.54 418.45H436.74M430.54 437.01H436.74" stroke="#4F81BD" stroke-width="1.25" fill="none"/>
<path d="M456 426.74V446.46M452.9 426.74H459.1M452.9 446.46H459.1" stroke="#4F81BD" stroke-width="1.25" fill="none"/>
</g>
<path d="M299.5 452.26 L299.95 468.91 L303.3 469.72 L321.86 427.38 L344.21 407.48 L366.57 422.8 L388.93 424.25 L411.29 426.04 L433.64 427.73 L456 436.6" stroke="#4F81BD" stroke-width="3.5" fill="none" stroke-linejoin="round"/>
<rect x="295.5" y="448.26" width="8" height="8" fill="#4F81BD"/>
<rect x="295.95" y="464.91" width="8" height="8" fill="#4F81BD"/>
<rect x="299.3" y="465.72" width="8" height="8" fill="#4F81BD"/>
<rect x="317.86" y="423.38" width="8" height="8" fill="#4F81BD"/>
<rect x="340.21" y="403.48" width="8" height="8" fill="#4F81BD"/>
<rect x="362.57" y="418.8" width="8" height="8" fill="#4F81BD"/>
<rect x="384.93" y="420.25" width="8" height="8" fill="#4F81BD"/>
<rect x="407.29" y="422.04" width="8" height="8" fill="#4F81BD"/>
<rect x="429.64" y="423.73" width="8" height="8" fill="#4F81BD"/>
<rect x="452" y="432.6" width="8" height="8" fill="#4F81BD"/>
<clipPath id="c8"><rect x="525.5" y="390.8" width="153.3" height="80.4"/></clipPath>
<line x1="525.5" y1="471.5" x2="678.8" y2="471.5" class="g"/>
<text x="513.2" y="475.2" class="t" text-anchor="end">0</text>
<line x1="525.5" y1="451.5" x2="678.8" y2="451.5" class="g"/>
<text x="513.2" y="455.1" class="t" text-anchor="end">750</text>
<line x1="525.5" y1="431.5" x2="678.8" y2="431.5" class="g"/>
<text x="513.2" y="435" class="t" text-anchor="end">1500</text>
<line x1="525.5" y1="410.5" x2="678.8" y2="410.5" class="g"/>
<text x="513.2" y="414.9" class="t" text-anchor="end">2250</text>
<line x1="525.5" y1="390.5" x2="678.8" y2="390.5" class="g"/>
<text x="513.2" y="394.8" class="t" text-anchor="end">3000</text>
<line x1="525.5" y1="390.5" x2="525.5" y2="471.5" class="g"/>
<text x="525.5" y="492.8" class="t" text-anchor="middle">0</text>
<text x="547.4" y="492.8" class="t" text-anchor="middle">1</text>
<text x="569.3" y="492.8" class="t" text-anchor="middle">2</text>
<text x="591.2" y="492.8" class="t" text-anchor="middle">3</text>
<text x="613.1" y="492.8" class="t" text-anchor="middle">4</text>
<text x="635" y="492.8" class="t" text-anchor="middle">5</text>
<text x="656.9" y="492.8" class="t" text-anchor="middle">6</text>
<text x="678.8" y="492.8" class="t" text-anchor="middle">7</text>
<text x="602.6" y="512.3" class="b" text-anchor="middle" textLength="61.2" lengthAdjust="spacingAndGlyphs">Time (Day)</text>
<text transform="translate(475.9,431.9) rotate(-90)" class="b" text-anchor="middle" textLength="78.8" lengthAdjust="spacingAndGlyphs">TNF-α (pg/mL)</text>
<g clip-path="url(#c8)">
<path d="M525.5 436.2V452.28M522.4 436.2H528.6M522.4 452.28H528.6" stroke="#C0504D" stroke-width="1.25" fill="none"/>
<path d="M547.4 415.46V445.47M544.3 415.46H550.5M544.3 445.47H550.5" stroke="#C0504D" stroke-width="1.25" fill="none"/>
<path d="M569.3 391.12V442.04M566.2 391.12H572.4M566.2 442.04H572.4" stroke="#C0504D" stroke-width="1.25" fill="none"/>
<path d="M591.2 409.29V447.35M588.1 409.29H594.3M588.1 447.35H594.3" stroke="#C0504D" stroke-width="1.25" fill="none"/>
<path d="M613.1 435.56V463.43M610 435.56H616.2M610 463.43H616.2" stroke="#C0504D" stroke-width="1.25" fill="none"/>
<path d="M635 427.52V457.53M631.9 427.52H638.1M631.9 457.53H638.1" stroke="#C0504D" stroke-width="1.25" fill="none"/>
<path d="M656.9 406.42V457.88M653.8 406.42H660M653.8 457.88H660" stroke="#C0504D" stroke-width="1.25" fill="none"/>
<path d="M678.8 454.99V461.42M675.7 454.99H681.9M675.7 461.42H681.9" stroke="#C0504D" stroke-width="1.25" fill="none"/>
</g>
<path d="M525.5 444.24 L525.94 467.61 L529.22 470.13 L547.4 430.46 L569.3 416.58 L591.2 428.32 L613.1 449.49 L635 442.52 L656.9 432.15 L678.8 458.2" stroke="#C0504D" stroke-width="3.5" fill="none" stroke-linejoin="round"/>
<path d="M525.5 439.64L530.1 444.24L525.5 448.84L520.9 444.24Z" fill="#C0504D"/>
<path d="M525.94 463.01L530.54 467.61L525.94 472.21L521.34 467.61Z" fill="#C0504D"/>
<path d="M529.22 465.53L533.82 470.13L529.22 474.73L524.62 470.13Z" fill="#C0504D"/>
<path d="M547.4 425.86L552 430.46L547.4 435.06L542.8 430.46Z" fill="#C0504D"/>
<path d="M569.3 411.98L573.9 416.58L569.3 421.18L564.7 416.58Z" fill="#C0504D"/>
<path d="M591.2 423.72L595.8 428.32L591.2 432.92L586.6 428.32Z" fill="#C0504D"/>
<path d="M613.1 444.89L617.7 449.49L613.1 454.09L608.5 449.49Z" fill="#C0504D"/>
<path d="M635 437.92L639.6 442.52L635 447.12L630.4 442.52Z" fill="#C0504D"/>
<path d="M656.9 427.55L661.5 432.15L656.9 436.75L652.3 432.15Z" fill="#C0504D"/>
<path d="M678.8 453.6L683.4 458.2L678.8 462.8L674.2 458.2Z" fill="#C0504D"/>
<g clip-path="url(#c8)">
<path d="M547.4 432.53V451.56M544.3 432.53H550.5M544.3 451.56H550.5" stroke="#4F81BD" stroke-width="1.25" fill="none"/>
<path d="M569.3 413.63V444.72M566.2 413.63H572.4M566.2 444.72H572.4" stroke="#4F81BD" stroke-width="1.25" fill="none"/>
<path d="M591.2 437.7V454.32M588.1 437.7H594.3M588.1 454.32H594.3" stroke="#4F81BD" stroke-width="1.25" fill="none"/>
<path d="M613.1 436.57V454.8M610 436.57H616.2M610 454.8H616.2" stroke="#4F81BD" stroke-width="1.25" fill="none"/>
<path d="M635 435.07V453.57M631.9 435.07H638.1M631.9 453.57H638.1" stroke="#4F81BD" stroke-width="1.25" fill="none"/>
<path d="M656.9 423.23V452.71M653.8 423.23H660M653.8 452.71H660" stroke="#4F81BD" stroke-width="1.25" fill="none"/>
<path d="M678.8 450.4V458.44M675.7 450.4H681.9M675.7 458.44H681.9" stroke="#4F81BD" stroke-width="1.25" fill="none"/>
</g>
<path d="M525.5 450.43 L525.94 469.06 L529.22 470.21 L547.4 442.04 L569.3 429.18 L591.2 446.01 L613.1 445.69 L635 444.32 L656.9 437.97 L678.8 454.42" stroke="#4F81BD" stroke-width="3.5" fill="none" stroke-linejoin="round"/>
<rect x="521.5" y="446.43" width="8" height="8" fill="#4F81BD"/>
<rect x="521.94" y="465.06" width="8" height="8" fill="#4F81BD"/>
<rect x="525.22" y="466.21" width="8" height="8" fill="#4F81BD"/>
<rect x="543.4" y="438.04" width="8" height="8" fill="#4F81BD"/>
<rect x="565.3" y="425.18" width="8" height="8" fill="#4F81BD"/>
<rect x="587.2" y="442.01" width="8" height="8" fill="#4F81BD"/>
<rect x="609.1" y="441.69" width="8" height="8" fill="#4F81BD"/>
<rect x="631" y="440.32" width="8" height="8" fill="#4F81BD"/>
<rect x="652.9" y="433.97" width="8" height="8" fill="#4F81BD"/>
<rect x="674.8" y="450.42" width="8" height="8" fill="#4F81BD"/>
<clipPath id="c9"><rect x="80.7" y="565.3" width="153" height="75.7"/></clipPath>
<line x1="80.7" y1="641.5" x2="233.7" y2="641.5" class="g"/>
<text x="68.1" y="645" class="t" text-anchor="end">0</text>
<line x1="80.7" y1="622.5" x2="233.7" y2="622.5" class="g"/>
<text x="68.1" y="626.08" class="t" text-anchor="end">1250</text>
<line x1="80.7" y1="603.5" x2="233.7" y2="603.5" class="g"/>
<text x="68.1" y="607.15" class="t" text-anchor="end">2500</text>
<line x1="80.7" y1="584.5" x2="233.7" y2="584.5" class="g"/>
<text x="68.1" y="588.22" class="t" text-anchor="end">3750</text>
<line x1="80.7" y1="565.5" x2="233.7" y2="565.5" class="g"/>
<text x="68.1" y="569.3" class="t" text-anchor="end">5000</text>
<line x1="80.5" y1="565.5" x2="80.5" y2="641.5" class="g"/>
<text x="80.7" y="662.1" class="t" text-anchor="middle">0</text>
<text x="102.56" y="662.1" class="t" text-anchor="middle">1</text>
<text x="124.41" y="662.1" class="t" text-anchor="middle">2</text>
<text x="146.27" y="662.1" class="t" text-anchor="middle">3</text>
<text x="168.13" y="662.1" class="t" text-anchor="middle">4</text>
<text x="189.99" y="662.1" class="t" text-anchor="middle">5</text>
<text x="211.84" y="662.1" class="t" text-anchor="middle">6</text>
<text x="233.7" y="662.1" class="t" text-anchor="middle">7</text>
<text x="157.15" y="681.7" class="b" text-anchor="middle" textLength="61.2" lengthAdjust="spacingAndGlyphs">Time (Day)</text>
<text transform="translate(38,612.8) rotate(-90)" class="b" text-anchor="middle" textLength="67" lengthAdjust="spacingAndGlyphs">IL-6 (pg/mL)</text>
<g clip-path="url(#c9)">
<path d="M87.91 623.74V635.55M84.81 623.74H91.01M84.81 635.55H91.01" stroke="#C0504D" stroke-width="1.25" fill="none"/>
<path d="M102.56 621.62V628.59M99.46 621.62H105.66M99.46 628.59H105.66" stroke="#C0504D" stroke-width="1.25" fill="none"/>
<path d="M124.41 514.88V632.07M121.31 514.88H127.51M121.31 632.07H127.51" stroke="#C0504D" stroke-width="1.25" fill="none"/>
<path d="M146.27 618.59V632.67M143.17 618.59H149.37M143.17 632.67H149.37" stroke="#C0504D" stroke-width="1.25" fill="none"/>
<path d="M189.99 604.97V640.85M186.89 604.97H193.09M186.89 640.85H193.09" stroke="#C0504D" stroke-width="1.25" fill="none"/>
</g>
<path d="M80.7 633.58 L84.42 641 L87.91 629.64 L102.56 625.1 L124.41 573.48 L146.27 625.63 L168.13 639.94 L189.99 622.91 L211.84 640.55 L233.7 632.07" stroke="#C0504D" stroke-width="3.5" fill="none" stroke-linejoin="round"/>
<path d="M80.7 628.98L85.3 633.58L80.7 638.18L76.1 633.58Z" fill="#C0504D"/>
<path d="M84.42 636.4L89.02 641L84.42 645.6L79.82 641Z" fill="#C0504D"/>
<path d="M87.91 625.04L92.51 629.64L87.91 634.25L83.31 629.64Z" fill="#C0504D"/>
<path d="M102.56 620.5L107.16 625.1L102.56 629.7L97.96 625.1Z" fill="#C0504D"/>
<path d="M124.41 568.88L129.01 573.48L124.41 578.08L119.81 573.48Z" fill="#C0504D"/>
<path d="M146.27 621.03L150.87 625.63L146.27 630.23L141.67 625.63Z" fill="#C0504D"/>
<path d="M168.13 635.34L172.73 639.94L168.13 644.54L163.53 639.94Z" fill="#C0504D"/>
<path d="M189.99 618.31L194.59 622.91L189.99 627.51L185.39 622.91Z" fill="#C0504D"/>
<path d="M211.84 635.95L216.44 640.55L211.84 645.15L207.24 640.55Z" fill="#C0504D"/>
<path d="M233.7 627.47L238.3 632.07L233.7 636.67L229.1 632.07Z" fill="#C0504D"/>
<g clip-path="url(#c9)">
<path d="M80.7 622.23V637.37M77.6 622.23H83.8M77.6 637.37H83.8" stroke="#4F81BD" stroke-width="1.25" fill="none"/>
<path d="M124.41 580.89V625.41M121.31 580.89H127.51M121.31 625.41H127.51" stroke="#4F81BD" stroke-width="1.25" fill="none"/>
<path d="M146.27 612.08V635.1M143.17 612.08H149.37M143.17 635.1H149.37" stroke="#4F81BD" stroke-width="1.25" fill="none"/>
</g>
<path d="M80.7 629.8 L84.42 634.94 L86.16 635.7 L102.56 629.19 L124.41 603.15 L146.27 623.59 L168.13 635.17 L189.99 638.8 L211.84 628.28 L233.7 635.17" stroke="#4F81BD" stroke-width="3.5" fill="none" stroke-linejoin="round"/>
<rect x="76.7" y="625.8" width="8" height="8" fill="#4F81BD"/>
<rect x="80.42" y="630.94" width="8" height="8" fill="#4F81BD"/>
<rect x="82.16" y="631.7" width="8" height="8" fill="#4F81BD"/>
<rect x="98.56" y="625.19" width="8" height="8" fill="#4F81BD"/>
<rect x="120.41" y="599.15" width="8" height="8" fill="#4F81BD"/>
<rect x="142.27" y="619.59" width="8" height="8" fill="#4F81BD"/>
<rect x="164.13" y="631.17" width="8" height="8" fill="#4F81BD"/>
<rect x="185.99" y="634.8" width="8" height="8" fill="#4F81BD"/>
<rect x="207.84" y="624.28" width="8" height="8" fill="#4F81BD"/>
<rect x="229.7" y="631.17" width="8" height="8" fill="#4F81BD"/>
<clipPath id="c10"><rect x="299.7" y="567.3" width="156.7" height="79.8"/></clipPath>
<line x1="299.7" y1="647.5" x2="456.4" y2="647.5" class="g"/>
<text x="287.5" y="651.1" class="t" text-anchor="end">0</text>
<line x1="299.7" y1="627.5" x2="456.4" y2="627.5" class="g"/>
<text x="287.5" y="631.15" class="t" text-anchor="end">200</text>
<line x1="299.7" y1="607.5" x2="456.4" y2="607.5" class="g"/>
<text x="287.5" y="611.2" class="t" text-anchor="end">400</text>
<line x1="299.7" y1="587.5" x2="456.4" y2="587.5" class="g"/>
<text x="287.5" y="591.25" class="t" text-anchor="end">600</text>
<line x1="299.7" y1="567.5" x2="456.4" y2="567.5" class="g"/>
<text x="287.5" y="571.3" class="t" text-anchor="end">800</text>
<line x1="299.5" y1="567.5" x2="299.5" y2="647.5" class="g"/>
<text x="299.7" y="668.8" class="t" text-anchor="middle">0</text>
<text x="322.09" y="668.8" class="t" text-anchor="middle">1</text>
<text x="344.47" y="668.8" class="t" text-anchor="middle">2</text>
<text x="366.86" y="668.8" class="t" text-anchor="middle">3</text>
<text x="389.24" y="668.8" class="t" text-anchor="middle">4</text>
<text x="411.63" y="668.8" class="t" text-anchor="middle">5</text>
<text x="434.01" y="668.8" class="t" text-anchor="middle">6</text>
<text x="456.4" y="668.8" class="t" text-anchor="middle">7</text>
<text x="378.4" y="688.3" class="b" text-anchor="middle" textLength="61.2" lengthAdjust="spacingAndGlyphs">Time (Day)</text>
<text transform="translate(259.3,608.75) rotate(-90)" class="b" text-anchor="middle" textLength="75.1" lengthAdjust="spacingAndGlyphs">IFN-γ (pg/mL)</text>
<g clip-path="url(#c10)">
<path d="M300.6 626.15V638.12M297.5 626.15H303.7M297.5 638.12H303.7" stroke="#C0504D" stroke-width="1.25" fill="none"/>
<path d="M305.3 594.23V632.14M302.2 594.23H308.4M302.2 632.14H308.4" stroke="#C0504D" stroke-width="1.25" fill="none"/>
<path d="M322.09 587.55V618.47M318.99 587.55H325.19M318.99 618.47H325.19" stroke="#C0504D" stroke-width="1.25" fill="none"/>
<path d="M344.47 580.07V624.96M341.37 580.07H347.57M341.37 624.96H347.57" stroke="#C0504D" stroke-width="1.25" fill="none"/>
<path d="M366.86 573.19V626.05M363.76 573.19H369.96M363.76 626.05H369.96" stroke="#C0504D" stroke-width="1.25" fill="none"/>
<path d="M389.24 633.33V644.31M386.14 633.33H392.34M386.14 644.31H392.34" stroke="#C0504D" stroke-width="1.25" fill="none"/>
<path d="M411.63 560.12V630.34M408.53 560.12H414.73M408.53 630.34H414.73" stroke="#C0504D" stroke-width="1.25" fill="none"/>
</g>
<path d="M299.7 609.89 L300.6 632.14 L301.94 641.61 L305.3 613.18 L322.09 603.01 L344.47 602.51 L366.86 599.62 L389.24 638.82 L411.63 595.23 L434.01 647.1 L456.4 636.13" stroke="#C0504D" stroke-width="3.5" fill="none" stroke-linejoin="round"/>
<path d="M299.7 605.29L304.3 609.89L299.7 614.49L295.1 609.89Z" fill="#C0504D"/>
<path d="M300.6 627.54L305.2 632.14L300.6 636.74L296 632.14Z" fill="#C0504D"/>
<path d="M301.94 637.01L306.54 641.61L301.94 646.21L297.34 641.61Z" fill="#C0504D"/>
<path d="M305.3 608.58L309.9 613.18L305.3 617.78L300.7 613.18Z" fill="#C0504D"/>
<path d="M322.09 598.41L326.69 603.01L322.09 607.61L317.49 603.01Z" fill="#C0504D"/>
<path d="M344.47 597.91L349.07 602.51L344.47 607.11L339.87 602.51Z" fill="#C0504D"/>
<path d="M366.86 595.02L371.46 599.62L366.86 604.22L362.26 599.62Z" fill="#C0504D"/>
<path d="M389.24 634.22L393.84 638.82L389.24 643.42L384.64 638.82Z" fill="#C0504D"/>
<path d="M411.63 590.63L416.23 595.23L411.63 599.83L407.03 595.23Z" fill="#C0504D"/>
<path d="M434.01 642.5L438.61 647.1L434.01 651.7L429.41 647.1Z" fill="#C0504D"/>
<path d="M456.4 631.53L461 636.13L456.4 640.73L451.8 636.13Z" fill="#C0504D"/>
<g clip-path="url(#c10)">
<path d="M299.7 572.29V626.15M296.6 572.29H302.8M296.6 626.15H302.8" stroke="#4F81BD" stroke-width="1.25" fill="none"/>
<path d="M305.3 615.48V637.42M302.2 615.48H308.4M302.2 637.42H308.4" stroke="#4F81BD" stroke-width="1.25" fill="none"/>
<path d="M322.09 606.2V628.15M318.99 606.2H325.19M318.99 628.15H325.19" stroke="#4F81BD" stroke-width="1.25" fill="none"/>
<path d="M344.47 581.56V621.46M341.37 581.56H347.57M341.37 621.46H347.57" stroke="#4F81BD" stroke-width="1.25" fill="none"/>
<path d="M366.86 546.85V632.24M363.76 546.85H369.96M363.76 632.24H369.96" stroke="#4F81BD" stroke-width="1.25" fill="none"/>
<path d="M389.24 604.71V633.63M386.14 604.71H392.34M386.14 633.63H392.34" stroke="#4F81BD" stroke-width="1.25" fill="none"/>
<path d="M411.63 631.04V648.4M408.53 631.04H414.73M408.53 648.4H414.73" stroke="#4F81BD" stroke-width="1.25" fill="none"/>
<path d="M434.01 607.5V621.86M430.91 607.5H437.11M430.91 621.86H437.11" stroke="#4F81BD" stroke-width="1.25" fill="none"/>
<path d="M456.4 608.2V648.1M453.3 608.2H459.5M453.3 648.1H459.5" stroke="#4F81BD" stroke-width="1.25" fill="none"/>
</g>
<path d="M299.7 599.22 L301.94 621.76 L305.3 626.45 L322.09 617.17 L344.47 601.51 L366.86 589.54 L389.24 619.17 L411.63 639.72 L434.01 614.68 L456.4 628.15" stroke="#4F81BD" stroke-width="3.5" fill="none" stroke-linejoin="round"/>
<rect x="295.7" y="595.22" width="8" height="8" fill="#4F81BD"/>
<rect x="297.94" y="617.76" width="8" height="8" fill="#4F81BD"/>
<rect x="301.3" y="622.45" width="8" height="8" fill="#4F81BD"/>
<rect x="318.09" y="613.17" width="8" height="8" fill="#4F81BD"/>
<rect x="340.47" y="597.51" width="8" height="8" fill="#4F81BD"/>
<rect x="362.86" y="585.54" width="8" height="8" fill="#4F81BD"/>
<rect x="385.24" y="615.17" width="8" height="8" fill="#4F81BD"/>
<rect x="407.63" y="635.72" width="8" height="8" fill="#4F81BD"/>
<rect x="430.01" y="610.68" width="8" height="8" fill="#4F81BD"/>
<rect x="452.4" y="624.15" width="8" height="8" fill="#4F81BD"/>
<clipPath id="c11"><rect x="525.5" y="567.7" width="154.2" height="79.7"/></clipPath>
<line x1="525.5" y1="647.5" x2="679.7" y2="647.5" class="g"/>
<text x="513.2" y="651.4" class="t" text-anchor="end">0</text>
<line x1="525.5" y1="627.5" x2="679.7" y2="627.5" class="g"/>
<text x="513.2" y="631.48" class="t" text-anchor="end">300</text>
<line x1="525.5" y1="607.5" x2="679.7" y2="607.5" class="g"/>
<text x="513.2" y="611.55" class="t" text-anchor="end">600</text>
<line x1="525.5" y1="587.5" x2="679.7" y2="587.5" class="g"/>
<text x="513.2" y="591.62" class="t" text-anchor="end">900</text>
<line x1="525.5" y1="567.5" x2="679.7" y2="567.5" class="g"/>
<text x="513.2" y="571.7" class="t" text-anchor="end">1200</text>
<line x1="525.5" y1="567.5" x2="525.5" y2="647.5" class="g"/>
<text x="525.5" y="669" class="t" text-anchor="middle">0</text>
<text x="547.53" y="669" class="t" text-anchor="middle">1</text>
<text x="569.56" y="669" class="t" text-anchor="middle">2</text>
<text x="591.59" y="669" class="t" text-anchor="middle">3</text>
<text x="613.61" y="669" class="t" text-anchor="middle">4</text>
<text x="635.64" y="669" class="t" text-anchor="middle">5</text>
<text x="657.67" y="669" class="t" text-anchor="middle">6</text>
<text x="679.7" y="669" class="t" text-anchor="middle">7</text>
<text x="603" y="688.7" class="b" text-anchor="middle" textLength="61.2" lengthAdjust="spacingAndGlyphs">Time (Day)</text>
<text transform="translate(476,610.4) rotate(-90)" class="b" text-anchor="middle" textLength="80.8" lengthAdjust="spacingAndGlyphs">TNF-α (pg/mL)</text>
<g clip-path="url(#c11)">
<path d="M525.5 569.63V615.45M522.4 569.63H528.6M522.4 615.45H528.6" stroke="#C0504D" stroke-width="1.25" fill="none"/>
<path d="M547.53 556.94V610.07M544.43 556.94H550.63M544.43 610.07H550.63" stroke="#C0504D" stroke-width="1.25" fill="none"/>
<path d="M569.56 571.02V614.59M566.46 571.02H572.66M566.46 614.59H572.66" stroke="#C0504D" stroke-width="1.25" fill="none"/>
<path d="M591.59 579.65V629.2M588.49 579.65H594.69M588.49 629.2H594.69" stroke="#C0504D" stroke-width="1.25" fill="none"/>
<path d="M613.61 624.75V648M610.51 624.75H616.71M610.51 648H616.71" stroke="#C0504D" stroke-width="1.25" fill="none"/>
<path d="M635.64 580.52V647.33M632.54 580.52H638.74M632.54 647.33H638.74" stroke="#C0504D" stroke-width="1.25" fill="none"/>
</g>
<path d="M525.5 592.54 L527.7 645.47 L531.01 607.55 L547.53 583.51 L569.56 592.81 L591.59 604.43 L613.61 636.37 L635.64 613.93 L657.67 647.4 L679.7 629.73" stroke="#C0504D" stroke-width="3.5" fill="none" stroke-linejoin="round"/>
<path d="M525.5 587.94L530.1 592.54L525.5 597.14L520.9 592.54Z" fill="#C0504D"/>
<path d="M527.7 640.87L532.3 645.47L527.7 650.07L523.1 645.47Z" fill="#C0504D"/>
<path d="M531.01 602.95L535.61 607.55L531.01 612.15L526.41 607.55Z" fill="#C0504D"/>
<path d="M547.53 578.91L552.13 583.51L547.53 588.11L542.93 583.51Z" fill="#C0504D"/>
<path d="M569.56 588.21L574.16 592.81L569.56 597.41L564.96 592.81Z" fill="#C0504D"/>
<path d="M591.59 599.83L596.19 604.43L591.59 609.03L586.99 604.43Z" fill="#C0504D"/>
<path d="M613.61 631.77L618.21 636.37L613.61 640.97L609.01 636.37Z" fill="#C0504D"/>
<path d="M635.64 609.33L640.24 613.93L635.64 618.53L631.04 613.93Z" fill="#C0504D"/>
<path d="M657.67 642.8L662.27 647.4L657.67 652L653.07 647.4Z" fill="#C0504D"/>
<path d="M679.7 625.13L684.3 629.73L679.7 634.33L675.1 629.73Z" fill="#C0504D"/>
<g clip-path="url(#c11)">
<path d="M525.5 581.45V619.97M522.4 581.45H528.6M522.4 619.97H528.6" stroke="#4F81BD" stroke-width="1.25" fill="none"/>
<path d="M527.7 609.81V635.98M524.6 609.81H530.8M524.6 635.98H530.8" stroke="#4F81BD" stroke-width="1.25" fill="none"/>
<path d="M531.01 581.98V627.28M527.91 581.98H534.11M527.91 627.28H534.11" stroke="#4F81BD" stroke-width="1.25" fill="none"/>
<path d="M547.53 588.75V624.88M544.43 588.75H550.63M544.43 624.88H550.63" stroke="#4F81BD" stroke-width="1.25" fill="none"/>
<path d="M569.56 565.38V611.87M566.46 565.38H572.66M566.46 611.87H572.66" stroke="#4F81BD" stroke-width="1.25" fill="none"/>
<path d="M591.59 569.49V625.68M588.49 569.49H594.69M588.49 625.68H594.69" stroke="#4F81BD" stroke-width="1.25" fill="none"/>
<path d="M613.61 586.16V624.95M610.51 586.16H616.71M610.51 624.95H616.71" stroke="#4F81BD" stroke-width="1.25" fill="none"/>
<path d="M635.64 612.07V647.27M632.54 612.07H638.74M632.54 647.27H638.74" stroke="#4F81BD" stroke-width="1.25" fill="none"/>
<path d="M679.7 635.51V639.5M676.6 635.51H682.8M676.6 639.5H682.8" stroke="#4F81BD" stroke-width="1.25" fill="none"/>
</g>
<path d="M525.5 600.71 L527.7 622.89 L531.01 604.63 L547.53 606.82 L569.56 588.62 L591.59 597.59 L613.61 605.56 L635.64 629.67 L657.67 614.32 L679.7 637.5" stroke="#4F81BD" stroke-width="3.5" fill="none" stroke-linejoin="round"/>
<rect x="521.5" y="596.71" width="8" height="8" fill="#4F81BD"/>
<rect x="523.7" y="618.89" width="8" height="8" fill="#4F81BD"/>
<rect x="527.01" y="600.63" width="8" height="8" fill="#4F81BD"/>
<rect x="543.53" y="602.82" width="8" height="8" fill="#4F81BD"/>
<rect x="565.56" y="584.62" width="8" height="8" fill="#4F81BD"/>
<rect x="587.59" y="593.59" width="8" height="8" fill="#4F81BD"/>
<rect x="609.61" y="601.56" width="8" height="8" fill="#4F81BD"/>
<rect x="631.64" y="625.67" width="8" height="8" fill="#4F81BD"/>
<rect x="653.67" y="610.32" width="8" height="8" fill="#4F81BD"/>
<rect x="675.7" y="633.5" width="8" height="8" fill="#4F81BD"/>
<path d="M279.3 718.6H308.6" stroke="#C0504D" stroke-width="2.8" stroke-linecap="round"/>
<path d="M293.9 713.8L298.8 718.8L293.9 723.8L289 718.8Z" fill="#C0504D"/>
<text x="311.8" y="724.2" class="lg" textLength="55.3" lengthAdjust="spacingAndGlyphs">Control</text>
<path d="M383.4 718.6H412.6" stroke="#4F81BD" stroke-width="2.8" stroke-linecap="round"/>
<rect x="393.1" y="713.9" width="10" height="10" fill="#4F81BD"/>
<text x="416.1" y="724.2" class="lg" textLength="17" lengthAdjust="spacingAndGlyphs">CS</text>
</svg></body></html>
